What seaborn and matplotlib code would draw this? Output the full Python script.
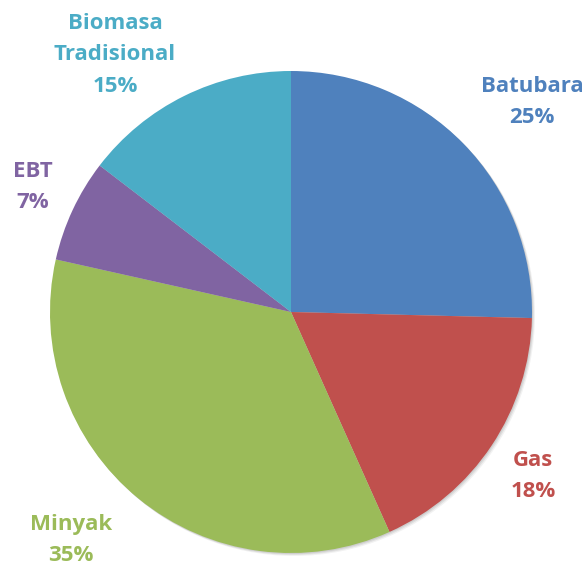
import numpy as np
import seaborn as sns
import matplotlib.pyplot as plt
from matplotlib.patches import Circle

labels = ["Batubara", "Gas", "Minyak", "EBT", "Biomasa\nTradisional"]
shares = [25.4, 17.9, 35.2, 6.9, 14.6]
colors = ["#4F81BD", "#C0504D", "#9BBB59", "#8064A2", "#4BACC6"]

sns.set_theme(style="white")
plt.rcParams['font.family'] = ['Open Sans', 'DejaVu Sans']

fig = plt.figure(figsize=(5.85, 5.70), dpi=100)
ax = fig.add_axes([0, 0, 1, 1])

center = (291, 258)
radius = 241

# faint drop shadow like the office chart
for off, a in [(3, 0.05), (2, 0.07), (1, 0.08)]:
    ax.add_patch(Circle((center[0] + off, center[1] - off), radius, color='black',
                        alpha=a, lw=0, zorder=0))

ax.pie(shares, colors=colors, startangle=90, counterclock=False,
       center=center, radius=radius, frame=True,
       wedgeprops=dict(linewidth=0, zorder=1))
ax.set_xlim(0, 585)
ax.set_ylim(0, 570)
ax.set_aspect('equal')
ax.axis('off')

# label anchors (pixel space, y up)
label_pos = [(532, 468), (533, 94), (71, 30), (33, 383), (115, 515)]
for lab, val, col, (x, y) in zip(labels, shares, colors, label_pos):
    ax.text(x, y, f"{lab}\n{round(val):.0f}%", color=col, fontsize=16, fontweight='bold',
            ha='center', va='center', linespacing=1.65)

plt.savefig("out.png", dpi=100)
plt.close()
